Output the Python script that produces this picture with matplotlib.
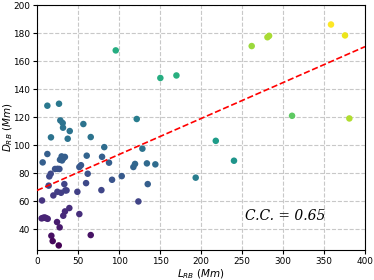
import numpy as np
import matplotlib
matplotlib.use('Agg')
import matplotlib.pyplot as plt

# length of the ribbon (Mm)
L_rb = [17, 37.4, 65.5, 12.6, 26.8, 28.4, 31.3, 31.7, 39.9, 56.5,
        121.6, 96, 150.4, 170, 261.8, 281, 283, 358.5, 375.6, 311,
        380.9, 218, 240.2, 193.5, 12.6, 6.9, 28, 30, 32, 34,
        30.5, 60.6, 82, 128.5, 51.6, 53.6, 61.8, 79.3, 87.8, 117.5,
        119.5, 134, 144.3, 135, 91.5, 103.3, 59.8, 33.3, 16.7, 15,
        14.2, 22, 25, 27.3, 19.9, 24.8, 29.3, 34.5, 36, 49.2,
        78.5, 6.1, 123.6, 5.6, 7.3, 9.3, 11, 13, 34.1, 39.4,
        32, 51.6, 24.4, 27.6, 17.5, 19.1, 26.5, 65.5]
# distance (Mm)
D_rb = [105.5, 104.5, 105.7, 128.1, 129.5, 117.6, 115.7, 112.4, 110, 115,
        118.6, 167.6, 147.9, 149.7, 170.7, 177, 178, 186.1, 178.3, 120.9,
        119, 103, 88.8, 76.7, 93.6, 87.6, 89.5, 91.9, 90.5, 91.5,
        89, 92.4, 98.5, 97.4, 84.3, 85.6, 79.5, 91.6, 87.4, 84.3,
        86.5, 86.9, 86.2, 72.1, 75.2, 77.8, 72.8, 72.1, 79.5, 77.6,
        71, 82.9, 83, 82.9, 64, 66.6, 65.9, 67.6, 67.6, 66.6,
        67.8, 60.4, 59.7, 47.6, 48, 48.3, 47.8, 47.3, 52.6, 55,
        49.5, 50.7, 45, 41.2, 35.2, 31.4, 28.3, 35.7]
# colour value (third quantity)
c_val = [0.38, 0.38, 0.38, 0.40, 0.40, 0.38, 0.38, 0.38, 0.38, 0.38,
         0.42, 0.62, 0.62, 0.63, 0.85, 0.87, 0.87, 1.0, 0.97, 0.75,
         0.88, 0.55, 0.52, 0.42, 0.30, 0.30, 0.30, 0.30, 0.30, 0.30,
         0.30, 0.32, 0.35, 0.38, 0.27, 0.27, 0.25, 0.30, 0.30, 0.32,
         0.33, 0.34, 0.35, 0.30, 0.26, 0.28, 0.22, 0.20, 0.22, 0.22,
         0.20, 0.25, 0.25, 0.25, 0.17, 0.18, 0.18, 0.19, 0.19, 0.19,
         0.21, 0.15, 0.20, 0.10, 0.10, 0.10, 0.10, 0.10, 0.12, 0.13,
         0.12, 0.13, 0.08, 0.07, 0.04, 0.02, 0.0, 0.05]

cc_text = 'C.C. = 0.65'

fig = plt.figure(figsize=(3.74, 2.80), dpi=100)
ax = fig.add_axes([0.099, 0.107, 0.877, 0.875])

ax.grid(True, linestyle='--', color='#c8c8c8', linewidth=0.8, zorder=0)
ax.scatter(L_rb, D_rb, c=c_val, cmap='viridis', vmin=0, vmax=1, s=22,
           edgecolors='none', zorder=3)

k, b = np.polyfit(L_rb, D_rb, 1)
xx = np.array([0, 400])
ax.plot(xx, k * xx + b, 'r--', linewidth=1.2, zorder=4)

ax.text(254, 49.5, cc_text, fontsize=10, family='DejaVu Serif',
        style='italic', va='center')

ax.set_xlim(0, 400)
ax.set_ylim(25, 200)
ax.set_xticks(np.arange(0, 401, 50))
ax.set_yticks(np.arange(40, 201, 20))
ax.tick_params(labelsize=6.4, pad=2, length=3)
ax.set_xlabel('$L_{RB}$ $(Mm)$', fontsize=7.5, labelpad=1)
ax.set_ylabel('$D_{RB}$ $(Mm)$', fontsize=7.5)
ax.yaxis.set_label_coords(-0.068, 0.5)

fig.savefig('out.png', dpi=100)
